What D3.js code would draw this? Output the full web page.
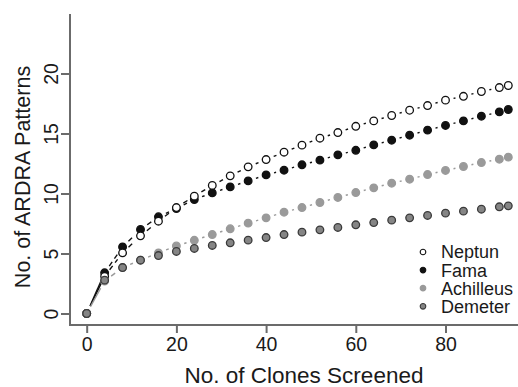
<!DOCTYPE html>
<html>
<head>
<meta charset="utf-8">
<script src="https://cdn.jsdelivr.net/npm/d3@7"></script>
<style>
  body { margin: 0; background: #fff; }
  text { font-family: "Liberation Sans", Arial, sans-serif; fill: #1a1a1a; }
</style>
</head>
<body>
<div id="chart"></div>
<script>
// number of clones screened (x) and patterns found per library
var clones = [0, 4, 8, 12, 16, 20, 24, 28, 32, 36, 40, 44, 48, 52, 56, 60, 64, 68, 72, 76, 80, 84, 88, 92, 94];
var neptun = [0, 3.1, 5.05, 6.47, 7.69, 8.83, 9.78, 10.67, 11.47, 12.22, 12.83, 13.44, 14.03, 14.61, 15.08, 15.6, 16.05, 16.5, 16.94, 17.33, 17.78, 18.1, 18.5, 18.83, 19.0];
var fama = [0, 3.39, 5.55, 7.0, 8.06, 8.75, 9.5, 10.05, 10.55, 11.05, 11.55, 11.94, 12.39, 12.78, 13.22, 13.6, 14.05, 14.44, 14.86, 15.28, 15.67, 16.05, 16.44, 16.8, 17.0];
var achilleus = [0, 2.7, 3.83, 4.45, 5.05, 5.63, 6.1, 6.58, 7.06, 7.53, 7.97, 8.44, 8.83, 9.25, 9.67, 10.08, 10.47, 10.86, 11.19, 11.58, 11.92, 12.25, 12.58, 12.86, 13.03];
var demeter = [0, 2.78, 3.83, 4.44, 4.83, 5.17, 5.42, 5.67, 5.89, 6.11, 6.33, 6.58, 6.78, 6.97, 7.17, 7.39, 7.58, 7.78, 7.97, 8.17, 8.36, 8.53, 8.69, 8.89, 8.97];

var xTicks = [0, 20, 40, 60, 80];
var yTicks = [0, 5, 10, 15, 20];

// drawing order matters: later ones sit on top
var series = [
  { name: "Fama", values: fama, fill: "#111", stroke: "#111", line: "#111" },
  { name: "Neptun", values: neptun, fill: "#fff", stroke: "#111", line: "#111" },
  { name: "Achilleus", values: achilleus, fill: "#9a9a9a", stroke: "#9a9a9a", line: "#9a9a9a" },
  { name: "Demeter", values: demeter, fill: "#858585", stroke: "#3a3a3a", line: null }
];
var legendOrder = ["Neptun", "Fama", "Achilleus", "Demeter"];

var width = 518, height = 387;
var plot = { left: 70, right: 520.5, top: 14, bottom: 325 };

var svg = d3.select("#chart").append("svg")
    .attr("width", width)
    .attr("height", height);

// R style 4% padding around xlim 0..93 and ylim 0..24
var x = d3.scaleLinear().domain([-3.72, 96.72]).range([plot.left, plot.right]);
var y = d3.scaleLinear().domain([-0.96, 24.96]).range([plot.bottom, plot.top]);

var axisColor = "#6b6b6b";

// L-shaped box
svg.append("path")
    .attr("d", "M" + plot.left + "," + plot.top + "V" + plot.bottom + "H" + plot.right)
    .attr("fill", "none")
    .attr("stroke", axisColor)
    .attr("stroke-width", 2);

var xAxis = d3.axisBottom(x).tickValues(xTicks).tickSize(8).tickPadding(4);
var gx = svg.append("g")
    .attr("transform", "translate(0," + plot.bottom + ")")
    .call(xAxis);
gx.select(".domain").remove();
gx.selectAll("line").attr("stroke", axisColor).attr("stroke-width", 2);
gx.selectAll("text").attr("font-size", 19.5).attr("fill", "#1a1a1a").attr("dy", "0.71em");

var yAxis = d3.axisLeft(y).tickValues(yTicks).tickSize(9).tickPadding(0);
var gy = svg.append("g")
    .attr("transform", "translate(" + plot.left + ",0)")
    .call(yAxis);
gy.select(".domain").remove();
gy.selectAll("line").attr("stroke", axisColor).attr("stroke-width", 2);
gy.selectAll("text")
    .attr("font-size", 19.5)
    .attr("fill", "#1a1a1a")
    .attr("x", null).attr("dy", null)
    .attr("text-anchor", "middle")
    .attr("transform", "translate(-12,0) rotate(-90)");

svg.append("text")
    .attr("x", 304)
    .attr("y", 383)
    .attr("text-anchor", "middle")
    .attr("font-size", 22.5)
    .text("No. of Clones Screened");

svg.append("text")
    .attr("transform", "translate(30,177) rotate(-90)")
    .attr("text-anchor", "middle")
    .attr("font-size", 21.5)
    .text("No. of ARDRA Patterns");

// type="b" style: separate segments that stop short of each point
var r = 3.8, cut = 8.2;
series.forEach(function(s) {
  if (!s.line) return;
  var g = svg.append("g");
  for (var i = 0; i < clones.length - 1; i++) {
    var x1 = x(clones[i]), y1 = y(s.values[i]);
    var x2 = x(clones[i + 1]), y2 = y(s.values[i + 1]);
    var len = Math.sqrt((x2 - x1) * (x2 - x1) + (y2 - y1) * (y2 - y1));
    if (len <= 2 * cut) continue;
    var ux = (x2 - x1) / len, uy = (y2 - y1) / len;
    g.append("line")
        .attr("x1", x1 + ux * cut).attr("y1", y1 + uy * cut)
        .attr("x2", x2 - ux * cut).attr("y2", y2 - uy * cut)
        .attr("stroke", s.line)
        .attr("stroke-width", 1.4)
        .attr("stroke-dasharray", i === 0 ? null : "5,4");
  }
});

series.forEach(function(s) {
  svg.append("g").selectAll("circle")
      .data(s.values)
      .enter().append("circle")
      .attr("cx", function(d, i) { return x(clones[i]); })
      .attr("cy", function(d) { return y(d); })
      .attr("r", r)
      .attr("fill", s.fill)
      .attr("stroke", s.stroke)
      .attr("stroke-width", 1.3);
});

// legend
var legend = svg.selectAll(".legend")
    .data(legendOrder)
    .enter().append("g")
    .attr("class", "legend")
    .attr("transform", function(d, i) { return "translate(423," + (252 + i * 18.1) + ")"; });

legend.append("circle")
    .attr("r", 2.8)
    .attr("fill", function(d) { return series.find(function(s) { return s.name === d; }).fill; })
    .attr("stroke", function(d) { return series.find(function(s) { return s.name === d; }).stroke; })
    .attr("stroke-width", 1.1);

legend.append("text")
    .attr("x", 18)
    .attr("dy", "0.36em")
    .attr("font-size", 18)
    .text(function(d) { return d; });
</script>
</body>
</html>
